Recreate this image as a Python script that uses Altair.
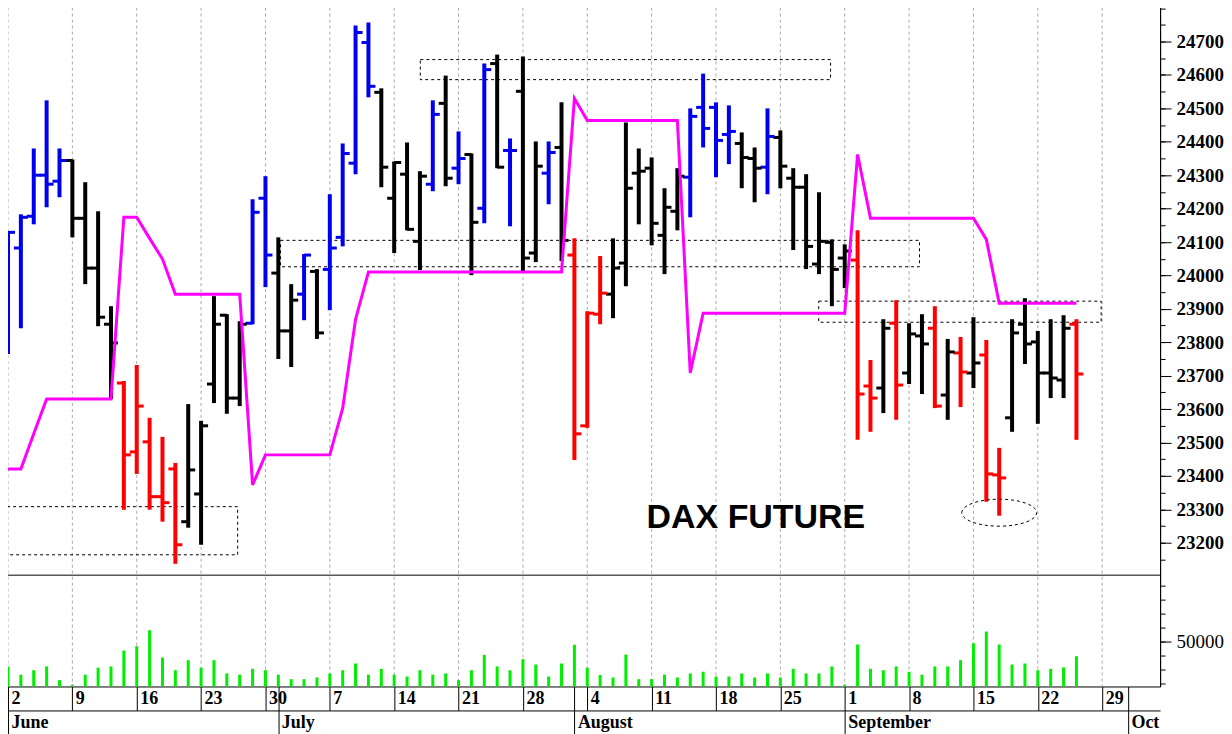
import json
import altair as alt
import pandas as pd

# ---------------- data (trading-day index 0 = Monday 2 June) ----------------
opens = [24028, 24082, 24177, 24300, 24282, 24344, 24171, 24022, 23854, 23678,
         23472, 23502, 23338, 23421, 23263, 23346, 23675, 23881, 23633, 23857,
         24231, 24007, 23834, 23944, 24012, 24018, 24114, 24336, 24697, 24548,
         24231, 24303, 24102, 24273, 24515, 24321, 24362, 24201, 24634, 24374,
         24551, 24067, 24306, 24383, 24061, 23550, 23884, 23944, 24037, 24306,
         24321, 24120, 24192, 24294, 24503, 24503, 24422, 24395, 24350, 24324,
         24413, 24291, 24264, 24034, 24099, 24052, 24046, 23669, 23663, 23857,
         23708, 23819, 23842, 23642, 23768, 23708, 23762, 23403, 23574, 23854,
         23801, 23708, 23687, 23854]
highs = [24132, 24183, 24380, 24524, 24380, 24347, 24279, 24192, 23908, 23684,
         23732, 23574, 23517, 23439, 23615, 23565, 23938, 23884, 23863, 24228,
         24297, 24114, 23974, 24064, 24019, 24243, 24395, 24748, 24757, 24560,
         24341, 24398, 24312, 24524, 24598, 24431, 24365, 24634, 24661, 24410,
         24655, 24401, 24401, 24518, 24111, 23893, 24058, 24111, 24458, 24380,
         24353, 24261, 24321, 24500, 24604, 24518, 24509, 24428, 24383, 24500,
         24434, 24321, 24303, 24249, 24108, 24093, 24135, 23747, 23869, 23926,
         23857, 23884, 23908, 23810, 23816, 23875, 23807, 23484, 23869, 23932,
         23834, 23869, 23881, 23869]
lows = [23765, 23842, 24153, 24204, 24234, 24114, 23974, 23848, 23630, 23299,
        23406, 23299, 23263, 23137, 23245, 23194, 23618, 23586, 23609, 23854,
        23965, 23750, 23726, 23866, 23810, 23896, 24087, 24303, 24533, 24264,
        24067, 24135, 24016, 24252, 24267, 24273, 24001, 24156, 24321, 24147,
        24007, 24040, 24213, 24043, 23448, 23544, 23854, 23872, 23968, 24153,
        24090, 24004, 24135, 24174, 24383, 24294, 24333, 24261, 24219, 24243,
        24261, 24076, 24019, 24004, 23908, 23962, 23508, 23532, 23588, 23568,
        23675, 23645, 23603, 23568, 23606, 23663, 23323, 23281, 23532, 23735,
        23556, 23633, 23633, 23508]
closes = [24129, 24174, 24300, 24273, 24344, 24171, 24022, 23875, 23798, 23463,
          23609, 23338, 23320, 23194, 23418, 23550, 23854, 23633, 23854, 24189,
          24061, 23834, 23926, 24061, 23828, 24082, 24365, 24727, 24566, 24324,
          24338, 24138, 24297, 24482, 24291, 24350, 24159, 24616, 24324, 24374,
          24052, 24327, 24368, 24105, 23526, 23887, 23947, 24022, 24261, 24312,
          24156, 24204, 24297, 24476, 24440, 24404, 24431, 24353, 24321, 24416,
          24327, 24264, 24087, 24102, 24018, 24073, 23645, 23633, 23842, 23672,
          23825, 23795, 23609, 23771, 23711, 23738, 23406, 23394, 23828, 23795,
          23708, 23693, 23842, 23705]
trend = (["blue"] * 5 + ["black"] * 4 + ["red"] * 5 + ["black"] * 5 + ["blue"] * 2
         + ["black"] * 2 + ["blue"] + ["black"] + ["blue"] * 4 + ["black"] * 4
         + ["blue", "black", "blue", "black", "blue", "black", "blue"]
         + ["black"] * 2 + ["blue", "black"] + ["red"] * 3 + ["black"] * 6
         + ["blue"] * 4 + ["black"] * 2 + ["blue"] + ["black"] * 6 + ["red"] * 2
         + ["black", "red", "black", "black", "red", "black", "red", "black", "red", "red"]
         + ["black"] * 5 + ["red"])
volumes = [32200, 26300, 29500, 32200, 22400, 19100, 26300, 31300, 32200, 43600,
           46700, 58100, 38600, 29500, 36700, 31300, 36700, 27200, 26300, 30500,
           29500, 26300, 23100, 23100, 24300, 27200, 29500, 34300, 26300, 30500,
           26300, 25000, 29500, 26300, 27200, 22400, 29500, 40500, 32200, 29500,
           37400, 33600, 25000, 34300, 47700, 31300, 26100, 24300, 40700, 23100,
           23100, 26300, 24300, 27200, 28400, 25000, 25000, 27200, 24300, 27200,
           24300, 30500, 27200, 27200, 32200, 19100, 47900, 30500, 29500, 32200,
           28400, 26300, 32200, 32200, 36700, 48800, 57200, 47900, 33600, 34300,
           29500, 30500, 31500, 39500]
stop_line = [23421, 23421, 23526, 23630, 23630, 23630, 23630, 23630, 23630, 24174,
             24174, 24111, 24049, 23944, 23944, 23944, 23944, 23944, 23944, 23373,
             23463, 23463, 23463, 23463, 23463, 23463, 23603, 23869, 24010, 24010,
             24010, 24010, 24010, 24010, 24010, 24010, 24010, 24010, 24010, 24010,
             24010, 24010, 24010, 24010, 24530, 24464, 24464, 24464, 24464, 24464,
             24464, 24464, 24464, 23708, 23887, 23887, 23887, 23887, 23887, 23887,
             23887, 23887, 23887, 23887, 23887, 23887, 24362, 24171, 24171, 24171,
             24171, 24171, 24171, 24171, 24171, 24171, 24108, 23917, 23917, 23917,
             23917, 23917, 23917, 23917]

week_days = ["2", "9", "16", "23", "30", "7", "14", "21", "28", "4", "11", "18",
             "25", "1", "8", "15", "22", "29"]
month_first_day = [0, 21, 44, 65, 87]
month_names = ["June", "July", "August", "September", "Oct"]

zone_start = [-1, 21.17, 32.03, 62.98]
zone_end = [17.84, 70.81, 63.9, 84.92]
zone_low = [23164, 24026, 24586, 23860]
zone_high = [23308, 24105, 24646, 23923]

ring_day = [77]
ring_price = [23290]
title_day = [58.1]
title_price = [23275]
title_text = ["DAX FUTURE"]

price_major = list(range(23200, 24701, 100))
price_minor = list(range(23150, 24801, 50))
vol_major = [50000]
vol_minor = list(range(20000, 90001, 10000))

# ---------------- tables ----------------
n = len(opens)
bars = pd.DataFrame({"day": list(range(n)), "open": opens, "high": highs,
                     "low": lows, "close": closes, "trend": trend})
vol_df = pd.DataFrame({"day": list(range(n)), "volume": volumes})
stop_df = pd.DataFrame({"day": list(range(len(stop_line))), "stop": stop_line})
zone_df = pd.DataFrame({"x1": zone_start, "x2": zone_end, "lo": zone_low, "hi": zone_high})
ring_df = pd.DataFrame({"day": ring_day, "price": ring_price})
title_df = pd.DataFrame({"day": title_day, "price": title_price, "text": title_text})
week_df = pd.DataFrame({"day": [5 * k for k in range(len(week_days))]})

X_DOM = [-0.543, 89.5]
P_DOM = [23104.5, 24819.5]
V_DOM = [17860, 97860]

xs = alt.Scale(domain=X_DOM, nice=False, zero=False)
ps = alt.Scale(domain=P_DOM, range=[574, 0], nice=False, zero=False)
vs = alt.Scale(domain=V_DOM, range=[686, 574], nice=False, zero=False)
cs = alt.Scale(domain=["blue", "black", "red"], range=["#0000ee", "#000000", "#ff0000"])

SERIF = "Liberation Serif"
common = dict(labelOverlap=False, labelFlush=False, labelBound=False, title=None,
              tickColor="black", domainColor="black", grid=False)

price_axis = alt.Axis(
    orient="right", values=price_major, tickSize=11, format="d",
    labelFont=SERIF, labelFontWeight="bold", labelFontSize=19, labelColor="black",
    labelPadding=5, **common)
price_minor_axis = alt.Axis(
    orient="right", values=price_minor, tickSize=5, labels=False, **common)

vol_axis = alt.Axis(
    orient="right", values=vol_major, tickSize=11,
    labelFont=SERIF, labelFontSize=19, labelColor="black", format="d",
    labelPadding=5, **common)
vol_minor_axis = alt.Axis(
    orient="right", values=vol_minor, tickSize=5, labels=False, **common)

day_vals = sorted(set(list(range(0, 86, 5)) + month_first_day))
day_axis = alt.Axis(
    orient="bottom", values=day_vals,
    labelExpr="datum.value % 5 === 0 ? " + json.dumps(week_days) + "[datum.value / 5] : ''",
    tickSize=24, labelAlign="left", labelBaseline="middle", labelPadding=-12, labelOffset=3,
    labelFont=SERIF, labelFontWeight="bold", labelFontSize=18, labelColor="black",
    **common)

month_expr = "''"
for d, name in reversed(list(zip(month_first_day, month_names))):
    month_expr = "datum.value === %d ? '%s' : (%s)" % (d, name, month_expr)

month_axis = alt.Axis(
    orient="bottom", offset=24, values=month_first_day, labelExpr=month_expr,
    tickSize=24, labelAlign="left", labelBaseline="middle", labelPadding=-12, labelOffset=3,
    labelFont=SERIF, labelFontWeight="bold", labelFontSize=18, labelColor="black",
    **common)

# ---------------- price panel ----------------
grid = alt.Chart(week_df).mark_rule(color="#a8a8a8", strokeDash=[3, 3], strokeWidth=1).encode(
    x=alt.X("day:Q", scale=xs, axis=None))

zones = alt.Chart(zone_df).mark_rect(
    fillOpacity=0, stroke="black", strokeDash=[3, 3], strokeWidth=1, clip=True
).encode(
    x=alt.X("x1:Q", scale=xs, axis=None), x2="x2:Q",
    y=alt.Y("lo:Q", scale=ps, axis=price_minor_axis), y2="hi:Q")

hl = alt.Chart(bars).mark_rule(strokeWidth=4, opacity=1).encode(
    x=alt.X("day:Q", scale=xs, axis=None),
    y=alt.Y("low:Q", scale=ps, axis=price_axis), y2="high:Q",
    color=alt.Color("trend:N", scale=cs, legend=None))

op = alt.Chart(bars).mark_tick(orient="horizontal", size=7, thickness=3, xOffset=-3.5,
                               opacity=1).encode(
    x=alt.X("day:Q", scale=xs, axis=None),
    y=alt.Y("open:Q", scale=ps, axis=None),
    color=alt.Color("trend:N", scale=cs, legend=None))

cl = alt.Chart(bars).mark_tick(orient="horizontal", size=7, thickness=3, xOffset=3.5,
                               opacity=1).encode(
    x=alt.X("day:Q", scale=xs, axis=None),
    y=alt.Y("close:Q", scale=ps, axis=None),
    color=alt.Color("trend:N", scale=cs, legend=None))

stop = alt.Chart(stop_df).mark_line(color="#ff00ff", strokeWidth=3, clip=True).encode(
    x=alt.X("day:Q", scale=xs, axis=None),
    y=alt.Y("stop:Q", scale=ps, axis=None))

ELLIPSE = "M -1 0 A 1 0.36 0 1 1 1 0 A 1 0.36 0 1 1 -1 0 Z"
ring = alt.Chart(ring_df).mark_point(
    shape=ELLIPSE, size=5625, filled=False, stroke="black", strokeDash=[3, 3],
    strokeWidth=1, opacity=1
).encode(x=alt.X("day:Q", scale=xs, axis=None), y=alt.Y("price:Q", scale=ps, axis=None))

title = alt.Chart(title_df).mark_text(
    font="Liberation Sans", fontWeight="bold", fontSize=34, color="black",
    align="center", baseline="middle"
).encode(x=alt.X("day:Q", scale=xs, axis=None), y=alt.Y("price:Q", scale=ps, axis=None),
         text="text:N")

price_group = alt.layer(grid, zones, hl, op, cl, stop, ring, title).resolve_axis(y="independent")

# ---------------- volume panel + date rows ----------------
vol = alt.Chart(vol_df).mark_rule(strokeWidth=3, color="#00ee00", opacity=1).encode(
    x=alt.X("day:Q", scale=xs, axis=day_axis),
    y=alt.Y("volume:Q", scale=vs, axis=vol_axis),
    y2=alt.datum(V_DOM[0]))

sep = alt.Chart(pd.DataFrame({"v": [V_DOM[1]]})).mark_rule(
    color="black", strokeWidth=1, yOffset=0.5
).encode(y=alt.Y("v:Q", scale=vs, axis=vol_minor_axis))

month_carrier = alt.Chart(pd.DataFrame({"day": month_first_day})).mark_point(opacity=0).encode(
    x=alt.X("day:Q", scale=xs, axis=month_axis))

vol_group = alt.layer(vol, sep, month_carrier).resolve_axis(x="independent", y="independent")

chart = (
    alt.layer(price_group, vol_group)
    .resolve_scale(y="independent")
    .resolve_axis(x="independent", y="independent")
    .properties(width=1161, height=686,
                padding={"left": -8, "top": -8, "right": 0, "bottom": 0},
                background="white")
    .configure_view(strokeWidth=0)
)

chart.save("out.html", embed_options={"renderer": "svg", "actions": False})
